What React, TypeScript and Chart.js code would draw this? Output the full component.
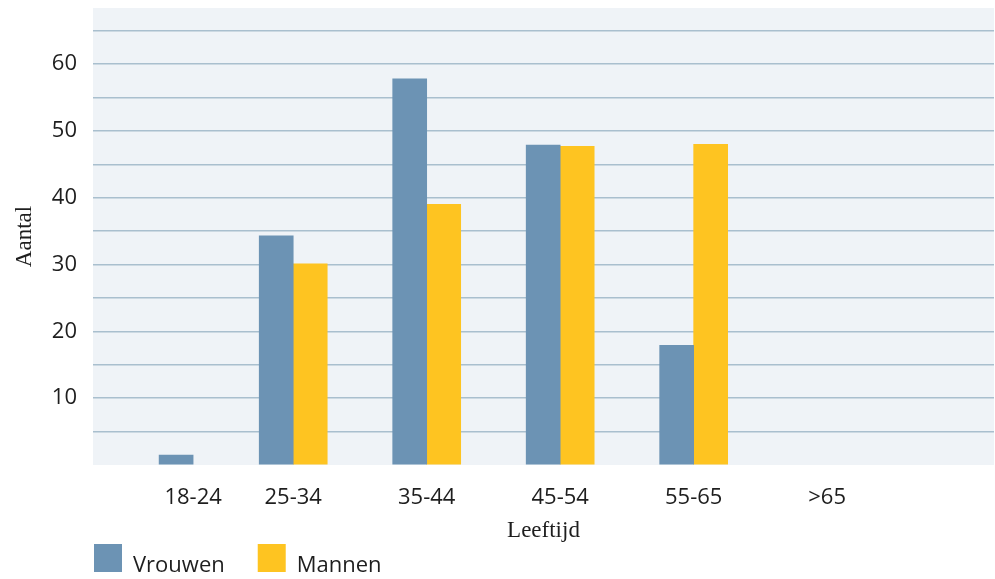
import React, { useEffect, useRef } from "react";
import { Chart, registerables } from "chart.js";

Chart.register(...registerables);

// ---- data ----
const ageGroups = ["18-24", "25-34", "35-44", "45-54", "55-65", ">65"];
const agePositions = [0.25, 1, 2, 3, 4, 5];
const vrouwen = [1.5, 34.3, 57.8, 47.9, 17.9, null];
const mannen = [null, 30.1, 39.0, 47.7, 48.0, null];
const seriesLabels = ["Vrouwen", "Mannen"];

const BLUE = "#6c93b4";
const YELLOW = "#fec421";
const GRID = "#a9bfce";
const PLOT_BG = "#eff3f7";
const TEXT = "#1e1e1e";
const SANS = '"Open Sans", "DejaVu Sans", sans-serif';
const SERIF = '"Liberation Serif", "DejaVu Serif", serif';

const plotBackground = {
  id: "plotBackground",
  beforeDraw(chart: any) {
    const { ctx, chartArea } = chart;
    ctx.save();
    ctx.fillStyle = PLOT_BG;
    ctx.fillRect(chartArea.left, chartArea.top, chartArea.right - chartArea.left, chartArea.bottom - chartArea.top);
    ctx.restore();
  },
};

const bottomLegend = {
  id: "bottomLegend",
  afterDraw(chart: any) {
    const { ctx, chartArea } = chart;
    let x = chartArea.left + 1;
    const y = chartArea.bottom + 79;
    ctx.save();
    ctx.font = `22px ${SANS}`;
    ctx.textBaseline = "alphabetic";
    ctx.textAlign = "left";
    chart.data.datasets.forEach((ds: any) => {
      ctx.fillStyle = ds.backgroundColor;
      ctx.fillRect(x, y, 28, 28);
      ctx.fillStyle = TEXT;
      ctx.fillText(ds.label, x + 39, y + 28);
      x += 39 + ctx.measureText(ds.label).width + 33;
    });
    ctx.restore();
  },
};

export default function App() {
  const ref = useRef<HTMLCanvasElement | null>(null);

  useEffect(() => {
    document.body.style.margin = "0";
    if (!ref.current) return;
    const chart = new Chart(ref.current, {
      type: "bar",
      data: {
        datasets: [
          {
            label: seriesLabels[0],
            data: agePositions.map((p, i) => ({ x: p, y: vrouwen[i] })),
            backgroundColor: BLUE,
            barThickness: 34,
          },
          {
            label: seriesLabels[1],
            data: agePositions.map((p, i) => ({ x: p, y: mannen[i] })),
            backgroundColor: YELLOW,
            barThickness: 34,
          },
        ],
      },
      options: {
        animation: false,
        responsive: true,
        maintainAspectRatio: false,
        layout: { padding: { left: 6.7, top: 8, right: 1, bottom: 34 } },
        plugins: {
          legend: { display: false },
          tooltip: { enabled: false },
        },
        scales: {
          x: {
            type: "linear",
            offset: false,
            min: -0.5,
            max: 6.25,
            grid: { display: false, drawTicks: false },
            border: { display: false },
            afterBuildTicks: (scale: any) => {
              scale.ticks = agePositions.map((v) => ({ value: v }));
            },
            afterFit: (scale: any) => {
              scale.height = 80;
              scale.paddingLeft = 0;
              scale.paddingRight = 0;
            },
            ticks: {
              autoSkip: false,
              maxRotation: 0,
              padding: 20,
              color: TEXT,
              font: { family: SANS, size: 22 },
              callback: (_v: any, i: number) => ageGroups[i],
            },
            title: {
              display: true,
              text: "Leeftijd",
              color: TEXT,
              font: { family: SERIF, size: 23 },
              padding: { top: 6.8, bottom: 0 },
            },
          },
          y: {
            min: 0,
            max: 68.4,
            grid: {
              drawTicks: false,
              lineWidth: 1.6,
              color: (c: any) => (c.tick && c.tick.value === 0 ? "rgba(0,0,0,0)" : GRID),
            },
            border: { display: false },
            afterFit: (scale: any) => {
              scale.width = 86.3;
              scale.paddingTop = 0;
              scale.paddingBottom = 0;
            },
            ticks: {
              stepSize: 5,
              includeBounds: false,
              padding: 16,
              color: TEXT,
              font: { family: SANS, size: 22 },
              callback: (v: any) => (v % 10 === 0 && v !== 0 ? String(v) : ""),
            },
            title: {
              display: true,
              text: "Aantal",
              color: TEXT,
              font: { family: SERIF, size: 23 },
              padding: { top: 4, bottom: 13.5 },
            },
          },
        },
      },
      plugins: [plotBackground, bottomLegend],
    });
    return () => chart.destroy();
  }, []);

  return (
    <div style={{ position: "relative", width: 995, height: 579 }}>
      <canvas ref={ref} />
    </div>
  );
}
